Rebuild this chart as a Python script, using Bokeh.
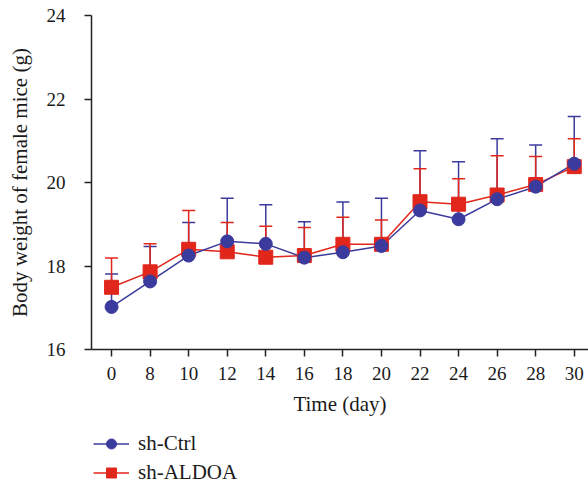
from bokeh.plotting import figure
from bokeh.layouts import column
from bokeh.models import Range1d, FixedTicker, Whisker, TeeHead, ColumnDataSource, Legend, LegendItem
from bokeh.embed import file_html
from bokeh.resources import INLINE

days = ["0", "8", "10", "12", "14", "16", "18", "20", "22", "24", "26", "28", "30"]
ctrl_mean = [17.02, 17.63, 18.25, 18.59, 18.53, 18.2, 18.33, 18.48, 19.33, 19.12, 19.6, 19.9, 20.45]
ctrl_upper = [17.81, 18.47, 19.04, 19.62, 19.47, 19.06, 19.53, 19.62, 20.76, 20.5, 21.05, 20.9, 21.58]
aldoa_mean = [17.49, 17.86, 18.4, 18.34, 18.21, 18.25, 18.52, 18.52, 19.54, 19.48, 19.7, 19.95, 20.38]
aldoa_upper = [18.19, 18.53, 19.33, 19.04, 18.95, 18.92, 19.17, 19.1, 20.33, 20.09, 20.64, 20.62, 21.05]
y_ticks = [16, 18, 20, 22, 24]

BLUE = "#3b3a9d"
RED = "#e1261c"
FONT = "Liberation Serif"

xs = list(range(len(days)))
src_c = ColumnDataSource(dict(x=xs, y=ctrl_mean, up=ctrl_upper))
src_a = ColumnDataSource(dict(x=xs, y=aldoa_mean, up=aldoa_upper))

p = figure(width=588, height=420, output_backend="svg", toolbar_location=None,
           x_range=Range1d(-0.52, 12.37), y_range=Range1d(16, 24),
           min_border_left=91, min_border_right=0, min_border_top=15, min_border_bottom=71)
p.outline_line_color = None
p.grid.visible = False
p.background_fill_color = "white"

for src, col in ((src_c, BLUE), (src_a, RED)):
    w = Whisker(source=src, base="x", lower="y", upper="up", dimension="height",
                line_color=col, line_width=1.5,
                upper_head=TeeHead(size=13, line_color=col, line_width=1.5),
                lower_head=None)
    p.add_layout(w)

p.line("x", "y", source=src_a, line_color=RED, line_width=1.5)
p.line("x", "y", source=src_c, line_color=BLUE, line_width=1.5)
p.scatter("x", "y", source=src_a, marker="square", size=14, fill_color=RED, line_color=RED)
p.scatter("x", "y", source=src_c, marker="circle", size=13, fill_color=BLUE, line_color=BLUE)

p.xaxis.ticker = FixedTicker(ticks=xs)
p.xaxis.major_label_overrides = {i: d for i, d in enumerate(days)}
p.yaxis.ticker = FixedTicker(ticks=y_ticks)
p.xaxis.axis_label = "Time (day)"
p.yaxis.axis_label = "Body weight of female mice (g)"

for ax in (p.xaxis[0], p.yaxis[0]):
    ax.axis_line_color = "#222222"
    ax.axis_line_width = 1.5
    ax.major_tick_line_color = "#222222"
    ax.major_tick_line_width = 1.5
    ax.major_tick_in = 0
    ax.major_tick_out = 7
    ax.minor_tick_line_color = None
    ax.major_label_text_font = FONT
    ax.major_label_text_font_size = "19px"
    ax.major_label_text_color = "#1a1a1a"
    ax.axis_label_text_font = FONT
    ax.axis_label_text_font_size = "21px"
    ax.axis_label_text_font_style = "normal"
    ax.axis_label_text_color = "#1a1a1a"

p.xaxis.major_label_standoff = 10
p.xaxis.axis_label_standoff = 9
p.yaxis.major_label_standoff = 19
p.yaxis.axis_label_standoff = 12

# legend panel below the chart (same series styles)
q = figure(width=588, height=65, output_backend="svg", toolbar_location=None,
           x_range=Range1d(0, 1), y_range=Range1d(100, 101),
           min_border_left=0, min_border_right=0, min_border_top=0, min_border_bottom=0)
q.axis.visible = False
q.grid.visible = False
q.outline_line_color = None
lc = q.line("x", "y", source=src_c, line_color=BLUE, line_width=1.5)
pc = q.scatter("x", "y", source=src_c, marker="circle", size=13, fill_color=BLUE, line_color=BLUE)
la = q.line("x", "y", source=src_a, line_color=RED, line_width=1.5)
pa = q.scatter("x", "y", source=src_a, marker="square", size=14, fill_color=RED, line_color=RED)

lg = Legend(items=[LegendItem(label="sh-Ctrl", renderers=[lc, pc]),
                   LegendItem(label="sh-ALDOA", renderers=[la, pa])],
            location=(2, 0), orientation="vertical")
lg.glyph_width = 36
lg.glyph_height = 25
lg.label_standoff = 9
lg.spacing = 4
lg.padding = 0
lg.margin = 0
lg.border_line_color = None
lg.background_fill_alpha = 0
lg.label_text_font = FONT
lg.label_text_font_size = "21px"
lg.label_text_color = "#1a1a1a"
q.add_layout(lg)

open("out.html", "w").write(file_html(column(p, q, spacing=0), INLINE))
